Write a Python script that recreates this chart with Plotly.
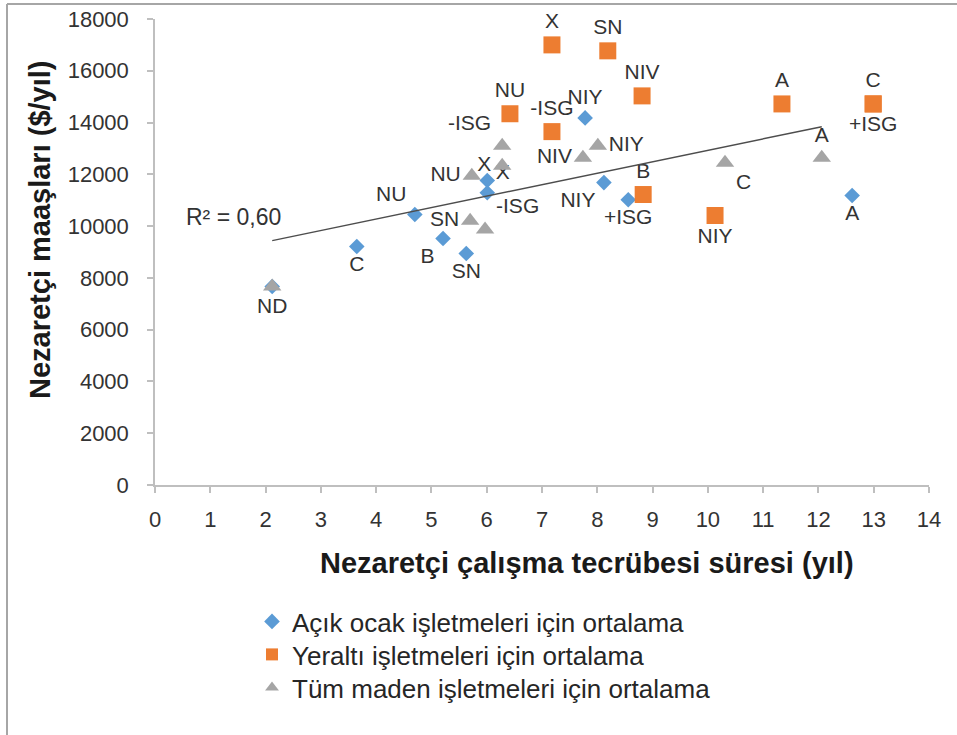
import plotly.graph_objects as go

# ---------------- data ----------------
acik_x = [2.12, 3.65, 4.70, 5.21, 5.63, 6.01, 6.01, 7.78, 8.12, 8.56, 12.61]
acik_y = [7670, 9210, 10450, 9520, 8940, 11760, 11290, 14180, 11680, 11020, 11180]
acik_lbl = ["", "C", "NU", "B", "SN", "", "X", "NIY", "NIY", "+ISG", "A"]
acik_pos = ["bottom center", "bottom center", "top left", "bottom left", "bottom center",
            "top center", "top right", "top center", "bottom left", "bottom center", "bottom center"]

yer_x = [7.18, 8.19, 8.81, 6.42, 7.18, 8.83, 10.13, 11.34, 12.99, 12.99]
yer_y = [17000, 16770, 15030, 14340, 13650, 11220, 10410, 14720, 14720, 14720]
yer_lbl = ["X", "SN", "NIV", "NU", "-ISG", "B", "NIY", "A", "C", "+ISG"]
yer_pos = ["top center", "top center", "top center", "top center", "top center",
           "top center", "bottom center", "top center", "top center", "bottom center"]

tum_x = [2.12, 5.73, 6.28, 6.28, 5.70, 5.97, 7.74, 8.01, 10.31, 12.06]
tum_y = [7670, 11950, 13100, 12330, 10210, 9870, 12640, 13100, 12450, 12640]
tum_lbl = ["ND", "NU", "-ISG", "X", "SN", "-ISG", "NIV", "NIY", "C", "A"]
tum_pos = ["bottom center", "middle left", "top left", "middle left", "middle left",
           "top right", "middle left", "middle right", "bottom right", "top center"]

trend_x = [2.12, 12.06]
trend_y = [9440, 13840]
r2_text = "R² = 0,60"

x_ticks = list(range(0, 15))
y_ticks = list(range(0, 18001, 2000))

names = ["Açık ocak işletmeleri için ortalama",
         "Yeraltı işletmeleri için ortalama",
         "Tüm maden işletmeleri için ortalama"]

# ---------------- layout helpers ----------------
W, H = 957, 735
PL, PR, PT, PB = 155, 929, 19, 485          # plot area in pixels
L, T, R, B = PL, PT, W - PR, H - PB
PW, PH = PR - PL, PB - PT


def px_x(px):
    return (px - PL) / PW


def px_y(py):
    return (PB - py) / PH


FONT = "Liberation Sans, Arial, sans-serif"
LBL = dict(family=FONT, size=21, color="#333333")

fig = go.Figure()

fig.add_trace(go.Scatter(
    x=acik_x, y=acik_y, mode="markers+text", name=names[0], legend="legend",
    text=acik_lbl, textposition=acik_pos, textfont=LBL, cliponaxis=False,
    marker=dict(symbol="diamond", size=12, color="#5B9BD5", line=dict(width=0)),
))
fig.add_trace(go.Scatter(
    x=yer_x, y=yer_y, mode="markers+text", name=names[1], legend="legend2",
    text=yer_lbl, textposition=yer_pos, textfont=LBL, cliponaxis=False,
    marker=dict(symbol="square", size=17, color="#ED7D31", line=dict(width=0)),
))
fig.add_trace(go.Scatter(
    x=tum_x, y=tum_y, mode="markers+text", name=names[2], legend="legend3",
    text=tum_lbl, textposition=tum_pos, textfont=LBL, cliponaxis=False,
    marker=dict(symbol="triangle-up", size=16, color="#A5A5A5", line=dict(width=0)),
))
fig.add_trace(go.Scatter(
    x=trend_x, y=trend_y, mode="lines", showlegend=False, hoverinfo="skip",
    line=dict(color="#4D4D4D", width=1.5),
))

axis_common = dict(
    showgrid=False, zeroline=False, showline=True, linecolor="#BFBFBF", linewidth=1.5,
    ticks="outside", ticklen=6, tickcolor="#BFBFBF", tickwidth=1.5,
    tickfont=dict(family=FONT, size=22, color="#333333"),
    tickformat="d", automargin=False, ticklabeloverflow="allow",
)

fig.update_xaxes(range=[0, 14], tickvals=x_ticks, ticklabelstandoff=8, **axis_common)
fig.update_yaxes(range=[0, 18000], tickvals=y_ticks, ticklabelstandoff=14, **axis_common)

fig.add_annotation(text=r2_text, x=px_x(233), y=px_y(217), xref="paper", yref="paper",
                   xanchor="center", yanchor="middle",
                   showarrow=False, font=dict(family=FONT, size=23, color="#333333"))
fig.add_annotation(text="<b>Nezaretçi çalışma tecrübesi süresi (yıl)</b>",
                   x=px_x(587), y=px_y(563), xref="paper", yref="paper",
                   xanchor="center", yanchor="middle",
                   showarrow=False, font=dict(family=FONT, size=29, color="#1a1a1a"))
fig.add_annotation(text="<b>Nezaretçi maaşları ($/yıl)</b>", textangle=-90,
                   x=px_x(40), y=px_y(230), xref="paper", yref="paper",
                   xanchor="center", yanchor="middle",
                   showarrow=False, font=dict(family=FONT, size=29, color="#1a1a1a"))

# outer frame lines (top and left) seen in the reference
fig.add_shape(type="line", xref="paper", yref="paper",
              x0=px_x(7), x1=px_x(W + 5), y0=px_y(4), y1=px_y(4),
              line=dict(color="#A6A6A6", width=2))
fig.add_shape(type="line", xref="paper", yref="paper",
              x0=px_x(7), x1=px_x(7), y0=px_y(4), y1=px_y(H + 5),
              line=dict(color="#A6A6A6", width=2))

LEG = dict(xanchor="left", yanchor="top", itemsizing="constant",
           font=dict(family=FONT, size=26, color="#262626"), bgcolor="rgba(0,0,0,0)")

fig.update_layout(
    width=W, height=H,
    margin=dict(l=L, r=R, t=T, b=B, autoexpand=False),
    paper_bgcolor="white", plot_bgcolor="white",
    showlegend=True,
    legend=dict(x=px_x(252), y=px_y(598), **LEG),
    legend2=dict(x=px_x(252), y=px_y(631), **LEG),
    legend3=dict(x=px_x(252), y=px_y(664), **LEG),
)

# remove the browser's default 8px body margin so the figure sits at the page origin
fig.write_html("out.html", config={"displayModeBar": False},
               post_script="document.body.style.margin='0px';")
